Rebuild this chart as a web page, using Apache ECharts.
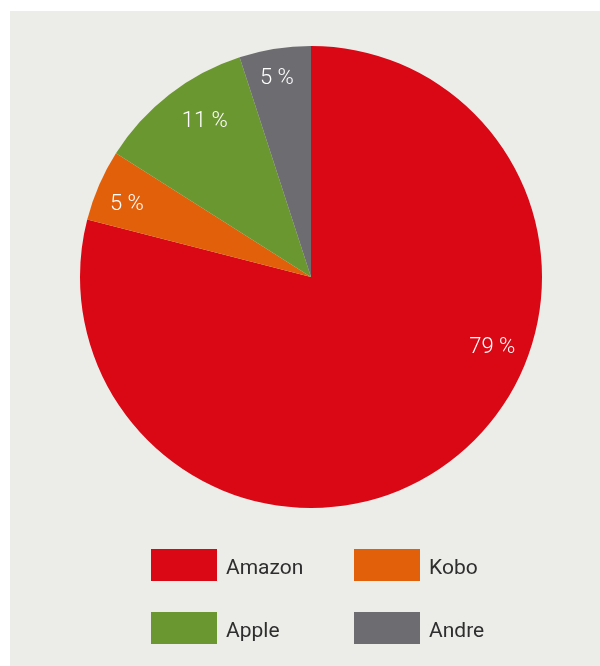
<!DOCTYPE html>
<html>
<head>
<meta charset="utf-8">
<script src="https://cdn.jsdelivr.net/npm/echarts@6/dist/echarts.min.js"></script>
<style>
html,body{margin:0;padding:0;background:#ffffff;}
#chart{position:absolute;left:0;top:0;width:600px;height:666px;}
</style>
</head>
<body>
<div id="chart"></div>
<script>
const categories = ['Amazon', 'Kobo', 'Apple', 'Andre'];
const values = [79, 5, 11, 5];
const colors = ['#da0715', '#e2600a', '#6b9730', '#6c6c71'];
const labelOffsets = [[59, -87], [-1, 7], [16, 2], [-3, -1]];
const legendPos = [[151, 549], [354, 549], [151, 612], [354, 612]];

const chart = echarts.init(document.getElementById('chart'), null, {renderer: 'canvas'});

const mainData = categories.map((n, i) => ({name: n, value: values[i], itemStyle: {color: colors[i]}}));
const labelData = categories.map((n, i) => ({name: n, value: values[i], label: {offset: labelOffsets[i]}}));

const legends = categories.map((n, i) => ({
  data: [n], left: legendPos[i][0], top: legendPos[i][1], padding: 0,
  itemWidth: 66, itemHeight: 32, icon: 'rect', selectedMode: false,
  formatter: '{t|{name}}',
  textStyle: {color: '#2e2e2e', fontFamily: 'Roboto', fontSize: 21,
    rich: {t: {color: '#2e2e2e', fontFamily: 'Roboto', fontSize: 21,
      padding: [8, 0, 0, 4]}}}
}));

chart.setOption({
  animation: false,
  graphic: [{
    type: 'rect', z: -10, silent: true,
    shape: {x: 10, y: 11, width: 590, height: 655},
    style: {fill: '#ecece8'}
  }],
  legend: legends,
  series: [{
    type: 'pie', center: [311, 277], radius: [0, 231], startAngle: 90,
    clockwise: true, silent: true, label: {show: false}, labelLine: {show: false},
    data: mainData
  }, {
    type: 'pie', center: [311, 277], radius: [162, 231], startAngle: 90,
    clockwise: true, silent: true, legendHoverLink: false,
    itemStyle: {color: 'rgba(0,0,0,0)'},
    label: {show: true, position: 'inside', formatter: '{c} %', color: '#ffffff',
      fontFamily: 'Roboto', fontWeight: 300, fontSize: 22},
    labelLine: {show: false},
    data: labelData
  }]
});
</script>
</body>
</html>
